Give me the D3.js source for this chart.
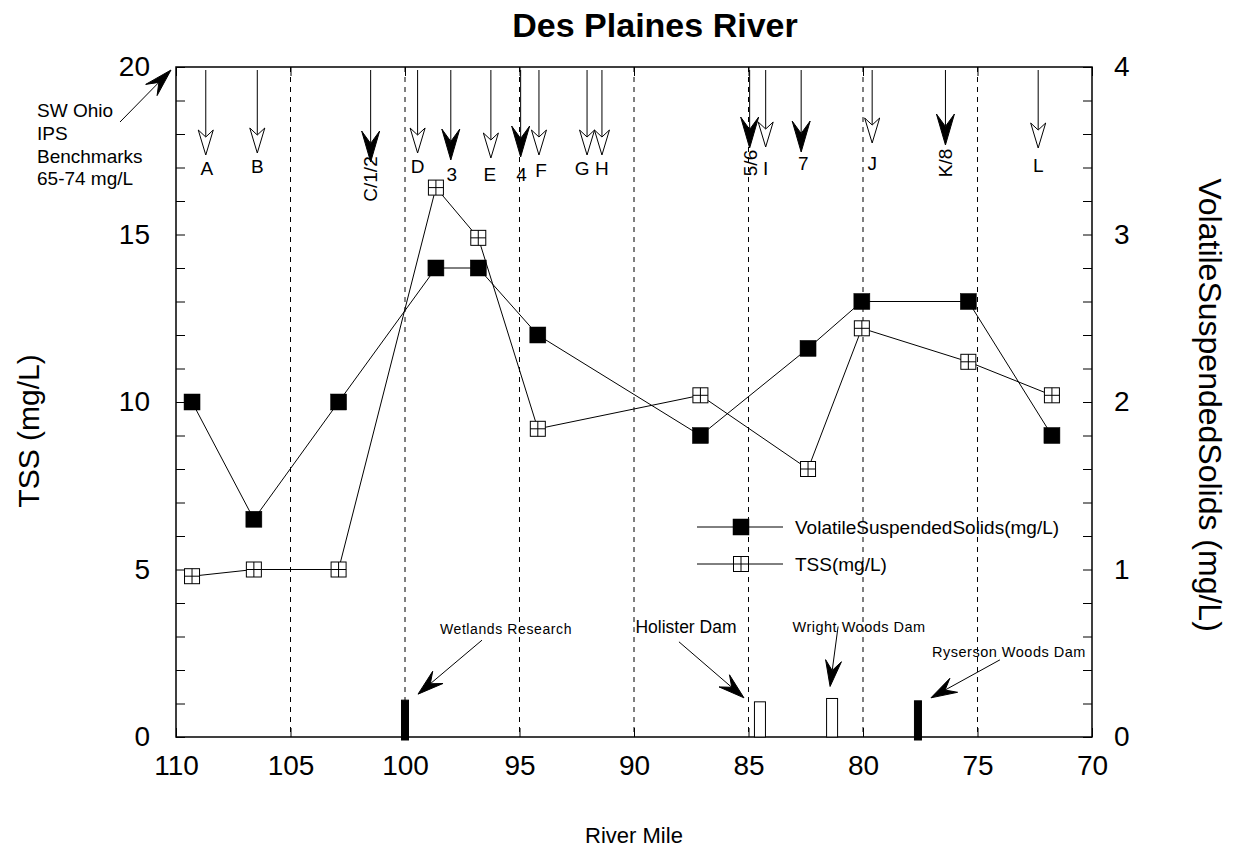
<!DOCTYPE html>
<html>
<head>
<meta charset="utf-8">
<script src="https://cdn.jsdelivr.net/npm/d3@7"></script>
<style>
  html, body { margin: 0; padding: 0; background: #fff; }
  svg { display: block; font-family: "Liberation Sans", Arial, Helvetica, sans-serif; }
</style>
</head>
<body>
<svg id="chart" width="1234" height="852"></svg>
<script>
// ---- data ----
const riverMiles = [109.3, 106.6, 102.9, 98.65, 96.8, 94.2, 87.1, 82.4, 80.05, 75.4, 71.75];
const vssValues  = [2.0, 1.3, 2.0, 2.8, 2.8, 2.4, 1.8, 2.32, 2.6, 2.6, 1.8];      // right axis, mg/L
const tssValues  = [4.8, 5.0, 5.0, 16.4, 14.9, 9.2, 10.2, 8.0, 12.2, 11.2, 10.2]; // left axis, mg/L

const xTickValues = [110, 105, 100, 95, 90, 85, 80, 75, 70];
const leftTickValues = [0, 5, 10, 15, 20];
const rightTickValues = [0, 1, 2, 3, 4];
const gridMiles = [105, 100, 95, 90, 85, 80, 75];

// sampling sites along the river (open = lettered site, filled = numbered site)
const siteLabels = ["A", "B", "C/1/2", "D", "3", "E", "4", "F", "G", "H", "5/6", "I", "7", "J", "K/8", "L"];
const siteMiles  = [108.7, 106.45, 101.5, 99.45, 98.0, 96.25, 94.95, 94.15, 92.05, 91.4, 84.95, 84.25, 82.7, 79.6, 76.4, 72.35];
const siteFilled = [false, false, true, false, true, false, true, false, false, false, true, false, true, false, true, false];

// dams / structures along the river
const damNames   = ["Wetlands Research", "Holister Dam", "Wright Woods Dam", "Ryserson Woods Dam"];
const damMiles   = [100.0, 84.5, 81.35, 77.6];
const damHeights = [1.1, 1.05, 1.15, 1.08];
const damFilled  = [true, false, false, true];

// ---- layout ----
const svg = d3.select("#chart");
const L = 176, R = 1092, T = 67, B = 737;
const x  = d3.scaleLinear().domain([110, 70]).range([L, R]);
const yL = d3.scaleLinear().domain([0, 20]).range([B, T]);
const yR = d3.scaleLinear().domain([0, 4]).range([B, T]);

// site arrow layout: arrow tip drop below the frame, label centre below frame, label x nudge
const siteTipDrop   = [88, 86, 95, 86, 93, 91, 90, 88, 88, 88, 81, 80, 85, 76, 78, 81];
const siteLabelDrop = [101, 99, 112, 99, 107, 107, 107, 103, 101, 101, 96, 101, 96, 96, 96, 98];
const siteLabelDx   = [1, 0, 0, 0, 1, -1, 1, 2, -5, 0, 1, 0, 2, 0, 0, 0];

// dam annotation layout (offsets relative to the bar top centre)
const damAnno = [
  { tipDx: 13, tipDy: -6, tailDx: 64, tailDy: -54, tx: 101, ty: -71, size: 14, ls: 0.6 },
  { tipDx: -16, tipDy: -4, tailDx: -65, tailDy: -56, tx: -74, ty: -75, size: 17.5, ls: 0 },
  { tipDx: -2, tipDy: -12, tailDx: 8, tailDy: -60, tx: 27, ty: -72, size: 14.5, ls: 0.5 },
  { tipDx: 13, tipDy: -3, tailDx: 69, tailDy: -38, tx: 91, ty: -49, size: 14.5, ls: 0.5 }
];

// ---- helpers ----
function arrowHead(g, x1, y1, x2, y2, len, half, notch, filled) {
  const a = Math.atan2(y2 - y1, x2 - x1);
  const ux = Math.cos(a), uy = Math.sin(a), px = -uy, py = ux;
  const bx = x2 - ux * len, by = y2 - uy * len;
  const nx = x2 - ux * len * notch, ny = y2 - uy * len * notch;
  g.append("line")
    .attr("x1", x1).attr("y1", y1).attr("x2", nx).attr("y2", ny)
    .attr("stroke", "#000").attr("stroke-width", 1);
  g.append("path")
    .attr("d", `M${x2},${y2}L${bx + px * half},${by + py * half}L${nx},${ny}L${bx - px * half},${by - py * half}Z`)
    .attr("fill", filled ? "#000" : "#fff")
    .attr("stroke", "#000").attr("stroke-width", 1).attr("stroke-linejoin", "miter");
}

// ---- title ----
svg.append("text").attr("x", 655).attr("y", 37).attr("text-anchor", "middle")
  .attr("font-size", 34).attr("font-weight", "bold").text("Des Plaines River");

// ---- grid ----
svg.append("g").selectAll("line").data(gridMiles).join("line")
  .attr("x1", d => x(d)).attr("x2", d => x(d)).attr("y1", T).attr("y2", B)
  .attr("stroke", "#000").attr("stroke-width", 1).attr("stroke-dasharray", "5,5");

// ---- axes: inward ticks ----
svg.append("g").attr("transform", `translate(${L},0)`)
  .call(d3.axisRight(yL).ticks(20).tickSize(9).tickFormat(""))
  .call(g => g.select(".domain").remove());
svg.append("g").attr("transform", `translate(${R},0)`)
  .call(d3.axisLeft(yR).ticks(20).tickSize(9).tickFormat(""))
  .call(g => g.select(".domain").remove());
svg.append("g").attr("transform", `translate(0,${B})`)
  .call(d3.axisTop(x).tickValues(xTickValues).tickSize(9).tickFormat(""))
  .call(g => g.select(".domain").remove());
svg.append("g").attr("transform", `translate(0,${T})`)
  .call(d3.axisBottom(x).tickValues(xTickValues).tickSize(9).tickFormat(""))
  .call(g => g.select(".domain").remove());

// ---- axes: labels ----
const labelFont = 28;
svg.append("g").attr("transform", `translate(${L},0)`)
  .call(d3.axisLeft(yL).tickValues(leftTickValues).tickSize(0).tickPadding(26).tickFormat(d3.format("d")))
  .call(g => g.select(".domain").remove())
  .call(g => g.selectAll("text").attr("font-size", labelFont).attr("font-family", null).attr("fill", "#000"));
svg.append("g").attr("transform", `translate(${R},0)`)
  .call(d3.axisRight(yR).tickValues(rightTickValues).tickSize(0).tickPadding(22).tickFormat(d3.format("d")))
  .call(g => g.select(".domain").remove())
  .call(g => g.selectAll("text").attr("font-size", labelFont).attr("font-family", null).attr("fill", "#000"));
svg.append("g").attr("transform", `translate(0,${B})`)
  .call(d3.axisBottom(x).tickValues(xTickValues).tickSize(0).tickPadding(18).tickFormat(d3.format("d")))
  .call(g => g.select(".domain").remove())
  .call(g => g.selectAll("text").attr("font-size", labelFont).attr("font-family", null).attr("fill", "#000"));

// frame
svg.append("rect").attr("x", L).attr("y", T).attr("width", R - L).attr("height", B - T)
  .attr("fill", "none").attr("stroke", "#000").attr("stroke-width", 1.5);

// axis titles
svg.append("text").attr("x", 634).attr("y", 843).attr("text-anchor", "middle")
  .attr("font-size", 22).text("River Mile");
svg.append("text").attr("transform", "translate(39,431) rotate(-90)").attr("text-anchor", "middle")
  .attr("font-size", 30).text("TSS (mg/L)");
svg.append("text").attr("transform", "translate(1199,405) rotate(90)").attr("text-anchor", "middle")
  .attr("font-size", 32).text("VolatileSuspendedSolids (mg/L)");

// ---- dams ----
const damG = svg.append("g");
damMiles.forEach((m, i) => {
  const w = damFilled[i] ? 7 : 11;
  damG.append("rect")
    .attr("x", x(m) - w / 2).attr("y", yL(damHeights[i]))
    .attr("width", w).attr("height", yL(0) - yL(damHeights[i]) + (damFilled[i] ? 3 : 0))
    .attr("fill", damFilled[i] ? "#000" : "#fff")
    .attr("stroke", "#000").attr("stroke-width", 1);
  const a = damAnno[i];
  const cx = x(m), cy = yL(damHeights[i]);
  arrowHead(damG, cx + a.tipDx + a.tailDx, cy + a.tipDy + a.tailDy, cx + a.tipDx, cy + a.tipDy, 26, 8, 0.62, true);
  damG.append("text").attr("x", cx + a.tx).attr("y", cy + a.ty).attr("dy", "0.35em")
    .attr("text-anchor", "middle").attr("font-size", a.size).attr("letter-spacing", a.ls)
    .text(damNames[i]);
});

// ---- series ----
const vssPts = riverMiles.map((m, i) => [x(m), yR(vssValues[i])]);
const tssPts = riverMiles.map((m, i) => [x(m), yL(tssValues[i])]);
const line = d3.line();
svg.append("path").attr("d", line(vssPts)).attr("fill", "none").attr("stroke", "#000").attr("stroke-width", 1);
svg.append("path").attr("d", line(tssPts)).attr("fill", "none").attr("stroke", "#000").attr("stroke-width", 1);

function filledSquare(g, cx, cy) {
  g.append("rect").attr("x", cx - 8).attr("y", cy - 8).attr("width", 16).attr("height", 16)
    .attr("fill", "#000").attr("stroke", "#000").attr("stroke-width", 0.5);
}
function gridSquare(g, cx, cy) {
  g.append("rect").attr("x", cx - 7.5).attr("y", cy - 7.5).attr("width", 15).attr("height", 15)
    .attr("fill", "#fff").attr("stroke", "#000").attr("stroke-width", 1);
  g.append("line").attr("x1", cx).attr("x2", cx).attr("y1", cy - 7.5).attr("y2", cy + 7.5)
    .attr("stroke", "#000").attr("stroke-width", 1);
  g.append("line").attr("x1", cx - 7.5).attr("x2", cx + 7.5).attr("y1", cy).attr("y2", cy)
    .attr("stroke", "#000").attr("stroke-width", 1);
}
const markG = svg.append("g");
tssPts.forEach(p => gridSquare(markG, p[0], p[1]));
vssPts.forEach(p => filledSquare(markG, p[0], p[1]));

// ---- site arrows along the top ----
const siteG = svg.append("g");
siteMiles.forEach((m, i) => {
  const sx = x(m);
  const tip = T + siteTipDrop[i];
  if (siteFilled[i]) arrowHead(siteG, sx, T + 3, sx, tip, 31, 9, 0.6, true);
  else arrowHead(siteG, sx, T + 3, sx, tip, 25, 7.5, 0.72, false);
  const lx = sx + siteLabelDx[i], ly = T + siteLabelDrop[i];
  const rotated = siteLabels[i].length > 1;
  siteG.append("text")
    .attr("transform", rotated ? `translate(${lx},${ly}) rotate(-90)` : `translate(${lx},${ly})`)
    .attr("dy", "0.35em").attr("text-anchor", "middle").attr("font-size", 19)
    .text(siteLabels[i]);
});

// ---- benchmark note ----
const noteLines = ["SW Ohio", "IPS", "Benchmarks", "65-74 mg/L"];
svg.append("g").selectAll("text").data(noteLines).join("text")
  .attr("x", 37).attr("y", (d, i) => 117 + i * 22.8).attr("font-size", 19).text(d => d);
arrowHead(svg.append("g"), 120, 122, L - 5, T + 3, 28, 8, 0.62, true);

// ---- legend ----
const legG = svg.append("g");
[["VolatileSuspendedSolids(mg/L)", 527, true], ["TSS(mg/L)", 564, false]].forEach(([name, ly, filled]) => {
  legG.append("line").attr("x1", 697).attr("x2", 783).attr("y1", ly).attr("y2", ly)
    .attr("stroke", "#000").attr("stroke-width", 1);
  if (filled) filledSquare(legG, 741, ly); else gridSquare(legG, 741, ly);
  legG.append("text").attr("x", 795).attr("y", ly).attr("dy", "0.35em").attr("font-size", 19).text(name);
});
</script>
</body>
</html>
